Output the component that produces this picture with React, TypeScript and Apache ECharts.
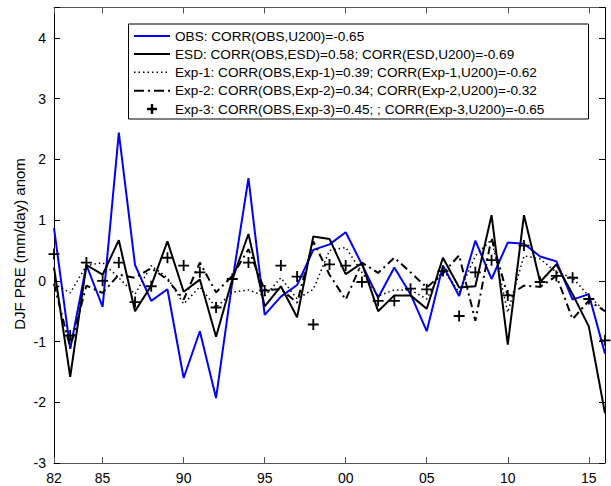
import React, { useEffect, useRef } from "react";
import * as echarts from "echarts";

const years = ["82","83","84","85","86","87","88","89","90","91","92","93","94","95","96","97","98","99","00","01","02","03","04","05","06","07","08","09","10","11","12","13","14","15","16"];
const tickYears = ["82","85","90","95","00","05","10","15"];

const obs = [0.87,-1.12,0.26,-0.43,2.44,0.26,-0.33,-0.14,-1.6,-0.83,-1.93,-0.02,1.69,-0.56,-0.26,-0.07,0.51,0.6,0.8,0.27,-0.28,0.22,-0.22,-0.83,0.25,-0.25,0.66,0.03,0.63,0.61,0.4,0.32,-0.31,-0.22,-1.2];
const esd = [0.22,-1.58,0.26,0.1,0.67,-0.5,-0.08,0.65,-0.18,0.02,-0.92,0.02,0.77,-0.42,-0.09,-0.6,0.73,0.69,0.11,0.29,-0.5,-0.24,-0.24,-0.46,0.38,-0.11,-0.09,1.08,-1.05,1.08,-0.02,0.27,-0.22,-0.75,-2.18];
const exp1 = [-0.05,-0.2,0.25,0.3,0.05,-0.22,0.25,0.05,-0.38,-0.1,-0.44,-0.19,-0.15,-0.25,0.05,-0.3,-0.14,0.5,0.55,0.14,-0.25,-0.15,-0.15,-0.3,0.19,-0.19,0.41,0.68,-0.52,0.41,0.36,0.14,0.05,-0.25,-0.5];
const exp2 = [-0.05,-1.1,-0.08,-0.2,0.1,0.05,0.21,0.02,-0.31,0.3,-0.19,0.08,0.52,-0.15,-0.14,-0.36,0.65,0.1,-0.31,0.3,0.13,0.38,0.14,-0.11,0.12,0.42,-0.66,0.71,-0.25,-0.08,-0.1,0.08,-0.63,-0.33,-0.5];
const exp3 = [0.44,-0.9,0.3,0.0,0.3,-0.35,-0.09,0.38,0.25,0.14,-0.44,0.03,0.3,-0.16,0.25,0.07,-0.72,0.27,0.25,-0.02,-0.33,-0.33,-0.13,-0.14,0.16,-0.58,0.14,0.34,-0.24,0.58,-0.02,0.08,0.05,-0.3,-0.98];

const legendLabels = [
  "OBS: CORR(OBS,U200)=-0.65",
  "ESD: CORR(OBS,ESD)=0.58; CORR(ESD,U200)=-0.69",
  "Exp-1: CORR(OBS,Exp-1)=0.39; CORR(Exp-1,U200)=-0.62",
  "Exp-2: CORR(OBS,Exp-2)=0.34; CORR(Exp-2,U200)=-0.32",
  "Exp-3: CORR(OBS,Exp-3)=0.45; ; CORR(Exp-3,U200)=-0.65",
];
const yName = "DJF PRE (mm/day) anom";

const FONT = "'Liberation Sans', Arial, Helvetica, sans-serif";
const BLUE = "#0000ff";
const PLUS = "path://M5,0H7V5H12V7H7V12H5V7H0V5H5Z";

export default function App() {
  const ref = useRef<HTMLDivElement>(null);
  useEffect(() => {
    if (!ref.current) return;
    const chart = echarts.init(ref.current, null, { renderer: "svg" });
    const showTick = (idx: number) => tickYears.indexOf(years[idx]) >= 0;
    const legendTop = 24;
    const rowY = [36, 54, 72.3, 90.7, 109];
    const styles = [
      { stroke: BLUE, lineWidth: 2 },
      { stroke: "#000", lineWidth: 2 },
      { stroke: "#000", lineWidth: 1.5, lineDash: [1.5, 3] },
      { stroke: "#000", lineWidth: 2, lineDash: [10, 4, 2, 4] },
    ];
    const legendEls: any[] = [
      {
        type: "rect",
        shape: { x: 128.5, y: legendTop, width: 460, height: 95 },
        style: { fill: "#fff", stroke: "#000", lineWidth: 1 },
        z: 100,
      },
    ];
    legendLabels.forEach((t, i) => {
      if (i < 4) {
        legendEls.push({
          type: "line",
          shape: { x1: 134, y1: rowY[i], x2: 170, y2: rowY[i] },
          style: styles[i],
          z: 101,
        });
      } else {
        legendEls.push({
          type: "line",
          shape: { x1: 147, y1: rowY[i], x2: 157, y2: rowY[i] },
          style: { stroke: "#000", lineWidth: 2.4 },
          z: 101,
        });
        legendEls.push({
          type: "line",
          shape: { x1: 152, y1: rowY[i] - 5, x2: 152, y2: rowY[i] + 5 },
          style: { stroke: "#000", lineWidth: 2.4 },
          z: 101,
        });
      }
      legendEls.push({
        type: "text",
        x: 175,
        y: rowY[i],
        style: {
          text: t,
          fill: "#000",
          fontSize: 13.6,
          fontFamily: FONT,
          align: "left",
          verticalAlign: "middle",
        },
        z: 101,
      });
    });
    legendEls.push({
      type: "text",
      x: 19.5,
      y: 244,
      rotation: Math.PI / 2,
      style: {
        text: yName,
        fill: "#000",
        fontSize: 15,
        fontFamily: FONT,
        align: "center",
        verticalAlign: "middle",
      },
    });

    const xBase = {
      type: "category",
      data: years,
      boundaryGap: false,
      axisLine: { onZero: false, lineStyle: { color: "#555", width: 1 } },
      axisTick: { show: true, inside: true, length: 6, interval: showTick, lineStyle: { color: "#555" } },
      splitLine: { show: false },
    };
    const yBase = {
      type: "value",
      min: -3,
      max: 4.5,
      interval: 1,
      axisLine: { show: true, onZero: false, lineStyle: { color: "#000", width: 1 } },
      axisTick: { show: true, inside: true, length: 6, lineStyle: { color: "#000" } },
      splitLine: { show: false },
    };

    chart.setOption({
      animation: false,
      grid: { left: 54, right: 6, top: 7.5, bottom: 23, containLabel: false },
      xAxis: [
        {
          ...xBase,
          position: "bottom",
          axisLabel: {
            interval: showTick,
            color: "#000",
            fontSize: 14,
            fontFamily: FONT,
            margin: 8,
          },
        },
        { ...xBase, position: "top", axisLabel: { show: false } },
      ],
      yAxis: [
        {
          ...yBase,
          position: "left",
          axisLabel: {
            color: "#000",
            fontSize: 14,
            fontFamily: FONT,
            margin: 8,
            formatter: (v: number) => (v > 4.01 ? "" : String(v)),
          },
        },
        { ...yBase, position: "right", axisLabel: { show: false } },
      ],
      graphic: legendEls,
      series: [
        {
          name: "OBS",
          type: "line",
          data: obs,
          symbol: "none",
          lineStyle: { color: BLUE, width: 2 },
          z: 2,
        },
        {
          name: "ESD",
          type: "line",
          data: esd,
          symbol: "none",
          lineStyle: { color: "#000", width: 2 },
          z: 3,
        },
        {
          name: "Exp-1",
          type: "line",
          data: exp1,
          symbol: "none",
          lineStyle: { color: "#000", width: 1.5, type: [1.5, 3] },
          z: 3,
        },
        {
          name: "Exp-2",
          type: "line",
          data: exp2,
          symbol: "none",
          lineStyle: { color: "#000", width: 2, type: [8, 4, 2, 4] },
          z: 3,
        },
        {
          name: "Exp-3",
          type: "scatter",
          data: exp3,
          symbol: PLUS,
          symbolSize: 11,
          itemStyle: { color: "#000", opacity: 1 },
          z: 4,
        },
      ],
    });
    return () => chart.dispose();
  }, []);
  return (
    <div
      ref={ref}
      style={{ position: "absolute", left: 0, top: 0, width: 611, height: 486, background: "#fff" }}
    />
  );
}
